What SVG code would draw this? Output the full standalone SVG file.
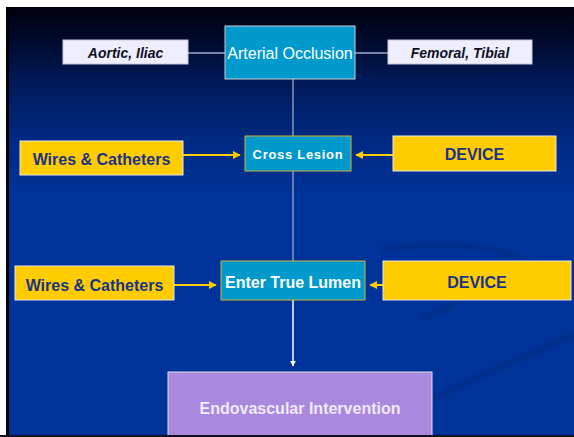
<svg xmlns="http://www.w3.org/2000/svg" width="574" height="437" viewBox="0 0 574 437">
<defs>
<linearGradient id="bg" x1="0" y1="7" x2="0" y2="200" gradientUnits="userSpaceOnUse">
<stop offset="0" stop-color="#00000f"/>
<stop offset="0.15" stop-color="#000828"/>
<stop offset="0.4" stop-color="#001a5a"/>
<stop offset="0.7" stop-color="#002a84"/>
<stop offset="1" stop-color="#003399"/>
</linearGradient>
<marker id="ay" viewBox="0 0 10 10" refX="9" refY="5" markerWidth="4" markerHeight="4" orient="auto" markerUnits="strokeWidth">
<path d="M0,0 L10,5 L0,10 z" fill="#ffcc00"/>
</marker>
<marker id="aw" viewBox="0 0 10 10" refX="9" refY="5" markerWidth="4" markerHeight="4" orient="auto" markerUnits="strokeWidth">
<path d="M0,0 L10,5 L0,10 z" fill="#ffffff"/>
</marker>
<style>
.cyan{fill:#0099cc;stroke:#c8d0d8;stroke-width:1}
.cyan2{fill:#0099cc;stroke:#d4b030;stroke-width:1}
.lav{fill:#eeeeff;stroke:#c8c8d8;stroke-width:1}
.yel{fill:#ffcc00;stroke:#e8e8e8;stroke-width:1}
.pur{fill:#aa88dd;stroke:#e0e0f0;stroke-width:1}
.t{font-family:"Liberation Sans",Arial,sans-serif;text-anchor:middle}
.b{font-weight:bold}
.w{fill:#ffffff}
.d{fill:#1a3388}
.k{fill:#111122;font-weight:bold;font-style:italic;font-size:14px}
.gl{stroke:#9aa8c8;stroke-width:1.3;fill:none}
.ya{stroke:#ffcc00;stroke-width:2;fill:none;marker-end:url(#ay)}
.wa{stroke:#ffffff;stroke-width:1.5;fill:none;marker-end:url(#aw)}
</style>
</defs>
<rect x="0" y="0" width="574" height="437" fill="#ffffff"/>
<rect x="6" y="7" width="568" height="430" fill="#000000"/>
<rect x="9" y="7" width="565" height="428" fill="url(#bg)"/>
<g fill="none" stroke="#002c84" stroke-width="7" opacity="0.5">
<path d="M380,250 C480,235 560,255 540,300"/>
<path d="M420,318 C470,305 470,285 430,270"/>
<path d="M430,400 C490,370 540,350 574,335"/>
</g>
<g id="connectors">
<line class="gl" x1="188" y1="53" x2="225" y2="53"/>
<line class="gl" x1="355" y1="53" x2="388" y2="53"/>
<line class="gl" x1="293" y1="79" x2="293" y2="136"/>
<line class="gl" x1="293" y1="171" x2="293" y2="261"/>
<line class="wa" x1="293" y1="300" x2="293" y2="366"/>
<line class="ya" x1="183" y1="155" x2="240" y2="155"/>
<line class="ya" x1="393" y1="155" x2="356" y2="155"/>
<line class="ya" x1="174" y1="285" x2="216" y2="285"/>
<line class="ya" x1="383" y1="285" x2="370" y2="285"/>
</g>
<g id="arterial">
<rect class="cyan" x="225" y="26" width="130" height="53"/>
<text class="t w" x="290" y="59" font-size="16">Arterial Occlusion</text>
</g>
<g id="aortic">
<rect class="lav" x="63" y="40" width="125" height="24"/>
<text class="t k" x="125.5" y="58.3">Aortic, Iliac</text>
</g>
<g id="femoral">
<rect class="lav" x="388" y="40" width="144" height="24"/>
<text class="t k" x="460" y="58.3">Femoral, Tibial</text>
</g>
<g id="wires1">
<rect class="yel" x="20" y="141" width="163" height="34"/>
<text class="t b d" x="101.5" y="165" font-size="16">Wires &amp; Catheters</text>
</g>
<g id="cross">
<rect class="cyan2" x="245" y="136" width="106" height="35"/>
<text class="t b w" x="298" y="159" font-size="13" letter-spacing="0.7">Cross Lesion</text>
</g>
<g id="device1">
<rect class="yel" x="393" y="136" width="163" height="35"/>
<text class="t b d" x="474.5" y="160" font-size="16">DEVICE</text>
</g>
<g id="wires2">
<rect class="yel" x="15" y="266" width="159" height="34"/>
<text class="t b d" x="94.5" y="291" font-size="16">Wires &amp; Catheters</text>
</g>
<g id="lumen">
<rect class="cyan2" x="221" y="261" width="144" height="39"/>
<text class="t b w" x="293" y="288.4" font-size="16">Enter True Lumen</text>
</g>
<g id="device2">
<rect class="yel" x="383" y="261" width="188" height="39"/>
<text class="t b d" x="477" y="288.4" font-size="16">DEVICE</text>
</g>
<g id="endo">
<rect class="pur" x="168" y="372" width="264" height="70"/>
<text class="t b" x="300" y="413.7" font-size="16" fill="#f0eaff">Endovascular Intervention</text>
</g>
<rect x="0" y="435" width="574" height="2" fill="#111122"/>
</svg>
